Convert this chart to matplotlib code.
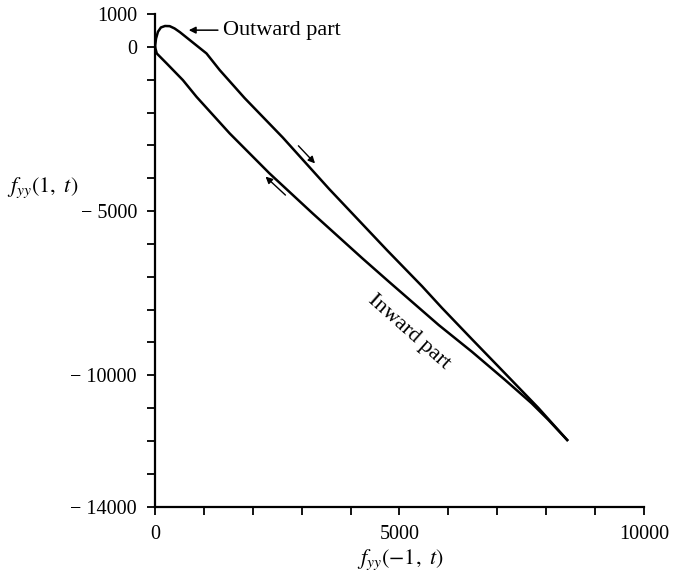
import matplotlib
matplotlib.use("Agg")
import matplotlib.pyplot as plt

plt.rcParams['font.family'] = ['Liberation Serif', 'DejaVu Serif']
plt.rcParams['mathtext.fontset'] = 'stix'

# Outward part of the loop (from origin, over the hump, down to the tip)
outer_x = [0, 20, 60, 120, 204, 300, 400, 509, 713, 1053, 1324, 1833, 2613,
           3564, 4752, 5464, 5871, 6483, 7163, 7841, 8432]
outer_y = [0, 250, 460, 590, 635, 630, 560, 447, 204, -201, -709, -1560, -2760,
           -4330, -6200, -7290, -7950, -8900, -9945, -10990, -11969]

# Inward part of the loop (from the tip back to origin, listed from origin)
inner_x = [0, 35, 238, 570, 849, 1527, 2342, 3224, 4242, 4786, 5804, 6483,
           7163, 7705, 8045, 8432]
inner_y = [0, -200, -505, -1013, -1522, -2635, -3853, -5070, -6439, -7152,
           -8469, -9282, -10143, -10852, -11354, -11969]

x_ticks = list(range(0, 10001, 1000))
x_labels = {0: '0', 5000: '5000', 10000: '10000'}
y_ticks = list(range(-14000, 1001, 1000))
y_labels = {1000: '1000', 0: '0', -5000: '\u2212 5000', -10000: '\u2212 10000',
            -14000: '\u2212 14000'}

# direction arrows (start, end) and label anchors
out_arrow = ((2933, -3012), (3273, -3548))
in_arrow = ((2668, -4513), (2261, -3951))
outward_label = (1400, 508)
outward_point = (690, 508)
inward_label = (5200, -8680)

fig = plt.figure(figsize=(6.77, 5.76), dpi=100)
ax = fig.add_axes([0.229, 0.1203, 0.722, 0.8554])

ax.plot(outer_x, outer_y, color='black', lw=1.8, solid_joinstyle='round')
ax.plot(inner_x, inner_y, color='black', lw=1.8, solid_joinstyle='round')

ax.set_xlim(0, 10000)
ax.set_ylim(-14000, 1000)

for s in ['top', 'right']:
    ax.spines[s].set_visible(False)
for s in ['left', 'bottom']:
    ax.spines[s].set_linewidth(1.6)

ax.set_xticks(x_ticks)
ax.set_xticklabels([x_labels.get(t, '') for t in x_ticks])
ax.set_yticks(y_ticks)
ax.set_yticklabels([y_labels.get(t, '') for t in y_ticks])
ax.tick_params(axis='both', direction='out', length=6, width=1.3,
               labelsize=14.5, pad=7)

for (s, e) in (out_arrow, in_arrow):
    ax.annotate('', xy=e, xytext=s,
                arrowprops=dict(arrowstyle='-|>', lw=1.0, color='black',
                                mutation_scale=10, shrinkA=0, shrinkB=0))

ax.annotate('Outward part', xy=outward_point, xytext=outward_label,
            ha='left', va='center', fontsize=16,
            arrowprops=dict(arrowstyle='-|>', lw=1.1, color='black',
                            mutation_scale=10, shrinkA=2, shrinkB=0))

ax.text(inward_label[0], inward_label[1], 'Inward part', rotation=-41.5,
        rotation_mode='anchor', ha='center', va='center', fontsize=16)

fig.text(7 / 677, 1 - 188 / 576, r'$f_{yy}(1,\ t)$', ha='left', va='center',
         fontsize=16)
fig.text(400 / 677, 1 - 560 / 576, r'$f_{yy}(-1,\ t)$', ha='center',
         va='center', fontsize=16)

fig.savefig('out.png', dpi=100)
